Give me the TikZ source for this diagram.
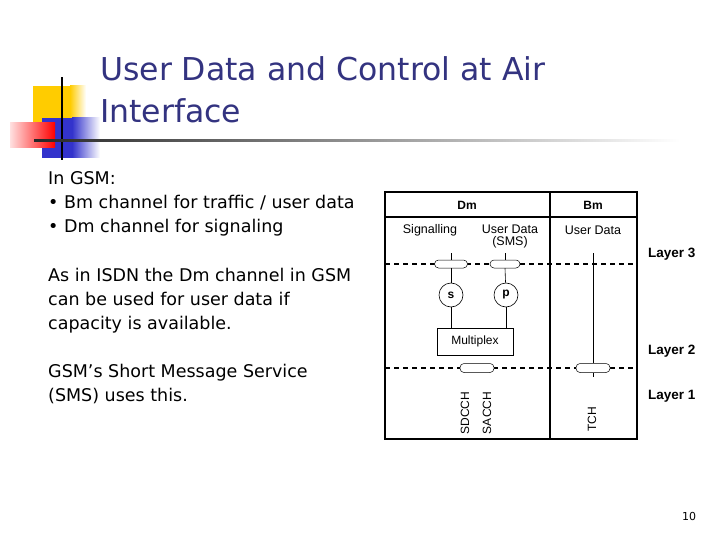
\documentclass[tikz,border=0pt]{standalone}
\usepackage{fontspec}
\setmainfont{DejaVu Sans}
\newfontfamily\arialfont{Liberation Sans}
\usetikzlibrary{positioning}

\definecolor{titleblue}{RGB}{51,51,128}
\definecolor{logoyellow}{RGB}{255,204,0}
\definecolor{logoblue}{RGB}{51,51,204}

\begin{document}
\begin{tikzpicture}[
    x=1pt, y=-1pt,
    title/.style={anchor=base west, inner sep=0, text=titleblue, font=\fontsize{31.5}{43}\selectfont},
    body/.style={anchor=base west, inner sep=0, align=left, font=\fontsize{17.5}{24}\selectfont},
    frame/.style={draw, line width=1.4pt},
    sepline/.style={line width=1.3pt, dash pattern=on 5pt off 4pt},
    sap/.style={draw, fill=white, rounded corners=4pt, minimum width=32pt, minimum height=8pt, inner sep=0, line width=0.5pt},
    entity/.style={draw, circle, minimum size=24pt, inner sep=0, line width=0.6pt, font=\arialfont\bfseries\fontsize{12}{14}\selectfont},
    head/.style={inner sep=0, font=\arialfont\bfseries\fontsize{12}{14}\selectfont},
    cell/.style={inner sep=0, align=center, font=\arialfont\fontsize{12.5}{12}\selectfont},
    layertag/.style={anchor=west, inner sep=0, font=\arialfont\bfseries\fontsize{13.5}{15}\selectfont},
    chan/.style={rotate=90, inner sep=0, font=\arialfont\fontsize{12}{14}\selectfont},
    link/.style={line width=0.6pt}
]
\fill[white] (0,0) rectangle (720,540);
\useasboundingbox (0,0) rectangle (720,540);

% logo
\fill[logoyellow] (33,86) rectangle (70,124);
\shade[left color=logoyellow, right color=white] (70,86) rectangle (86,124);
\fill[logoblue] (42,118) rectangle (72,158);
\shade[left color=logoblue, right color=white] (72,118) rectangle (100,158);
\shade[left color=red!12, right color=red] (10,123) rectangle (55,148);
\fill[black] (61,77) rectangle (63,160);
\shade[left color=black!85, right color=white] (34,140) rectangle (680,142);

% title and text
\node[title] (title1) at (100,81) {User Data and Control at Air};
\node[title] (title2) at (100,123) {Interface};
\node[body] (gsm) at (48,233) {In GSM:\\
  • Bm channel for traffic / user data\\
  • Dm channel for signaling};
\node[body] (isdn) at (48,329) {As in ISDN the Dm channel in GSM\\
  can be used for user data if\\
  capacity is available.};
\node[body] (sms) at (48,401) {GSM’s Short Message Service\\
  (SMS) uses this.};
\node[inner sep=0, font=\fontsize{11}{13}\selectfont] (page) at (689,516) {10};

% protocol diagram
\draw[frame] (385,192) rectangle (637,439);
\draw[frame] (385,217) -- (637,217);
\draw[frame] (550,192) -- (550,439);
\node[head] (dm) at (467,205) {Dm};
\node[head] (bm) at (593,205) {Bm};

\node[cell] (sig) at (430,230) {Signalling};
\node[cell] (usms) at (510,236) {User Data\\(SMS)};
\node[cell] (ubm) at (593,230) {User Data};

\draw[sepline] (385,264) -- (637,264);
\draw[sepline] (385,368) -- (637,368);

\coordinate (stop) at (451,253);
\coordinate (ptop) at (505,253);
\coordinate (bmtop) at (593,253);
\coordinate (bmbot) at (593,377);
\node[sap, minimum width=33pt] (sap3s) at (451,264) {};
\node[sap, minimum width=30pt] (sap3p) at (505,264) {};
\node[entity] (s) at (451,295) {s};
\node[entity] (p) at (506,295) {p};
\node[draw, line width=0.6pt, minimum width=76pt, minimum height=27pt, inner sep=0,
      font=\arialfont\fontsize{12}{14}\selectfont] (mux) at (475,341.5) {Multiplex};
\node[sap, minimum width=34pt, minimum height=9pt] (sap2) at (477,368) {};
\node[sap, minimum width=34pt, minimum height=9pt] (sap2b) at (593,368) {};

\draw[link] (stop) -- (sap3s.north);
\draw[link] (sap3s.south) -- (s);
\draw[link] (ptop) -- (sap3p.north);
\draw[link] (sap3p.south) -- (p);
\draw[link] (s) -- (s |- mux.north);
\draw[link] (p) -- (p |- mux.north);
\draw[link] (bmtop) -- (sap2b.north);
\draw[link] (sap2b.south) -- (bmbot);

\node[chan] (sdcch) at (465,413) {SDCCH};
\node[chan] (sacch) at (487,413) {SACCH};
\node[chan] (tch) at (592,419) {TCH};

\node[layertag] (l3) at (648,254) {Layer 3};
\node[layertag] (l2) at (648,351) {Layer 2};
\node[layertag] (l1) at (648,396) {Layer 1};
\end{tikzpicture}
\end{document}
